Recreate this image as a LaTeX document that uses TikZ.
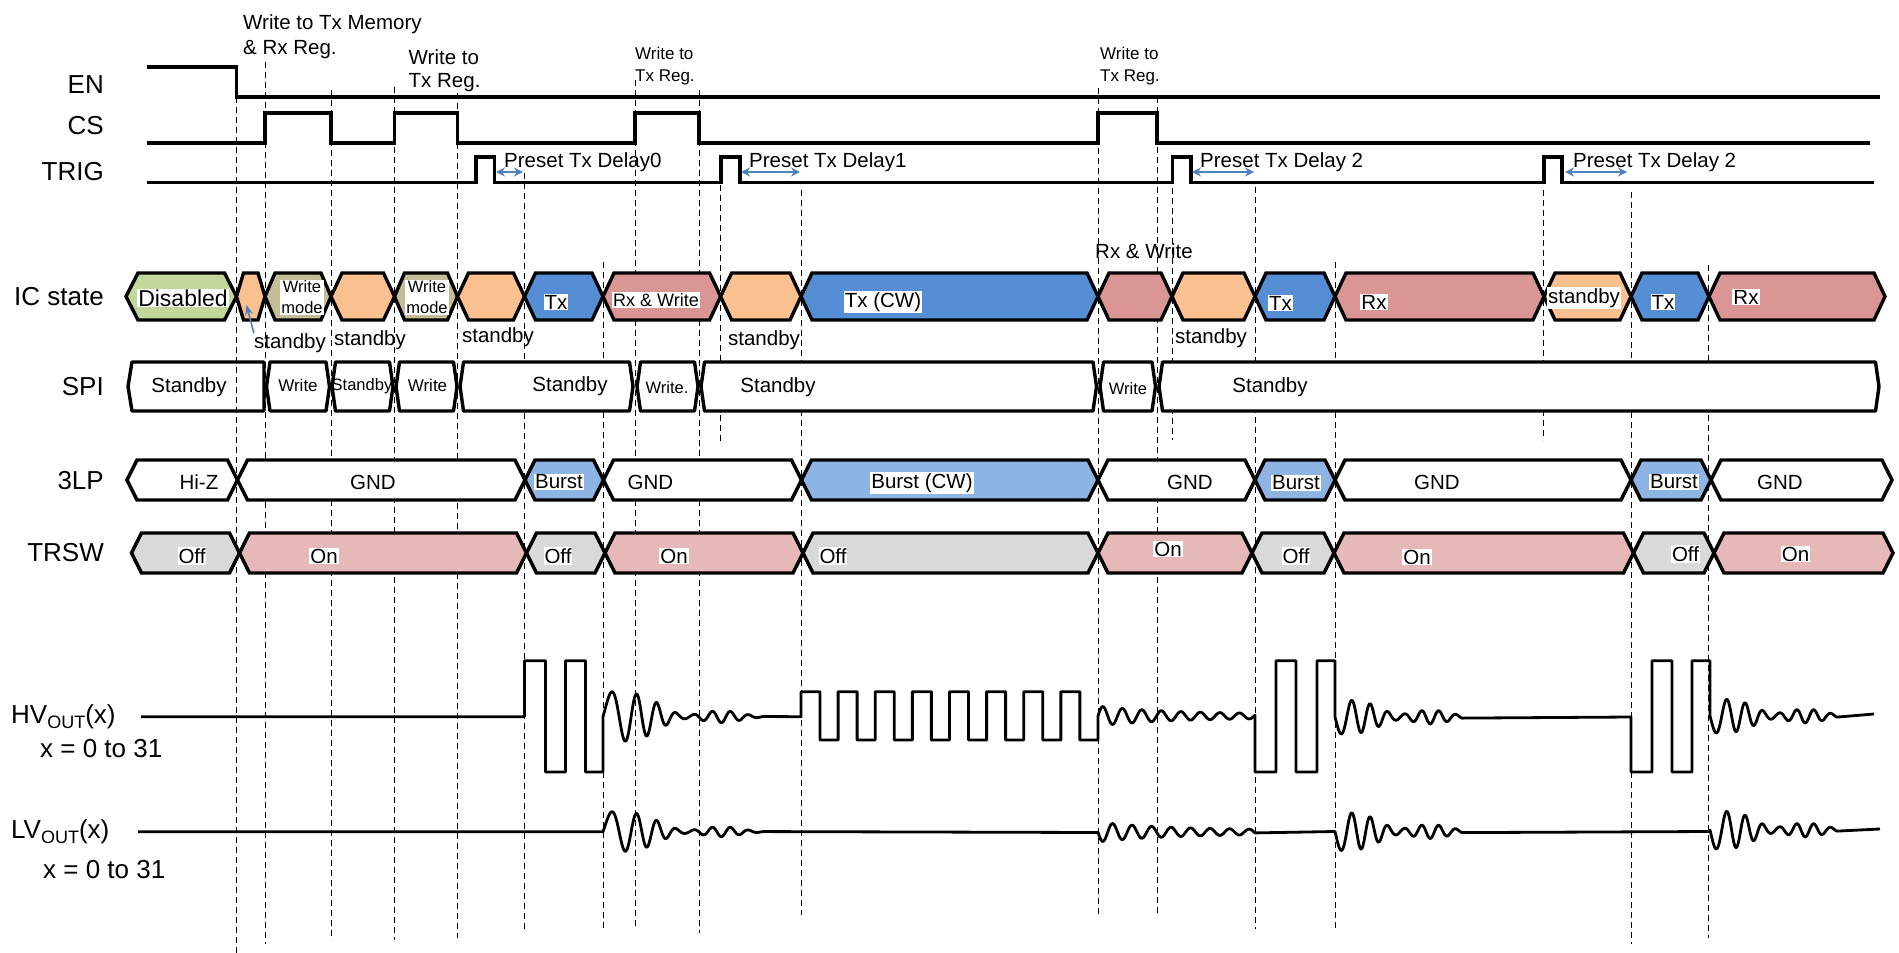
\documentclass[tikz,border=0pt]{standalone}
\usepackage{fontspec}
\setmainfont{Liberation Sans}
\usepackage{tikz}
\usetikzlibrary{arrows.meta}

\definecolor{discol}{HTML}{C4D79B}
\definecolor{sbycol}{HTML}{FAC090}
\definecolor{wrcol}{HTML}{C4BD97}
\definecolor{txcol}{HTML}{558ED5}
\definecolor{rxcol}{HTML}{D99694}
\definecolor{burstcol}{HTML}{8EB4E3}
\definecolor{offcol}{HTML}{D9D9D9}
\definecolor{oncol}{HTML}{E6B9B8}
\definecolor{delaycol}{HTML}{4F81BD}

% hexagon segment: style, left, right, top, bottom, slant
\newcommand{\hexseg}[6]{%
  \filldraw[#1] (#2,{(#4+#5)/2}) -- ({#2+#6},#4) -- ({#3-#6},#4) -- (#3,{(#4+#5)/2})
    -- ({#3-#6},#5) -- ({#2+#6},#5) -- cycle;}

\begin{document}
\begin{tikzpicture}[x=1pt, y=-1pt,
    declare function={
      bigenv(\u,\w)=exp(-min((\u/\w)*(\u/\w)*(\u/\w)*(\u/\w),15));
      bump(\u,\c)=exp(-min((\u-\c)*(\u-\c)/700,15));
      warp(\u,\k,\d)=\u-\k*(1-exp(-\u/\d));
    },
    sig/.style={line width=3.4pt, line join=miter},
    wave/.style={line width=2.8pt, line join=round},
    tmark/.style={line width=0.9pt, dash pattern=on 6pt off 4pt},
    seg/.style={draw=black, line width=3.4pt, line join=miter},
    rowlbl/.style={font=\fontsize{26}{28}\selectfont, inner sep=0pt, anchor=east},
    txt/.style={font=\fontsize{20.5}{24}\selectfont, inner sep=0pt},
    sml/.style={font=\fontsize{17}{20}\selectfont, inner sep=0pt},
    inbox/.style={fill=white, inner sep=1pt},
    delay/.style={{Stealth[length=9pt,width=9pt]}-{Stealth[length=9pt,width=9pt]}, delaycol, line width=2.2pt},
    ptr/.style={-{Stealth[length=10pt,width=8pt]}, delaycol, line width=1.6pt}]
  \useasboundingbox (0,0) rectangle (1899,953);

  % ---- time markers ----
  \foreach \x/\a/\b in {236.5/97/953, 265/62/944, 331/90/940, 394.5/87/940, 457.5/93/938,
      524.5/173/929, 603/262/929, 635/80/929, 699/90/933, 720.6/185/443, 801/190/915,
      1098/88/915, 1157/97/915, 1172/188/440, 1255/187/929, 1335/262/929,
      1543.5/190/440, 1631/192/944, 1708.6/265/938} {
    \draw[tmark] (\x,\a) -- (\x,\b);
  }

  % ---- row labels ----
  \node[rowlbl] (en) at (104,85) {EN};
  \node[rowlbl] (cs) at (104,126) {CS};
  \node[rowlbl] (trig) at (104,172) {TRIG};
  \node[rowlbl] (ics) at (104,297) {IC state};
  \node[rowlbl] (spi) at (104,387) {SPI};
  \node[rowlbl] (tlp) at (104,481) {3LP};
  \node[rowlbl] (trsw) at (104,553) {TRSW};
  \node[rowlbl, anchor=west] (hvo) at (11,717) {HV\raisebox{-0.35ex}{\fontsize{18}{18}\selectfont OUT}(x)};
  \node[rowlbl, anchor=west] (hvx) at (40,749) {x = 0 to 31};
  \node[rowlbl, anchor=west] (lvo) at (11,832) {LV\raisebox{-0.35ex}{\fontsize{18}{18}\selectfont OUT}(x)};
  \node[rowlbl, anchor=west] (lvx) at (43,870) {x = 0 to 31};

  % ---- EN, CS, TRIG ----
  \draw[sig] (147,67) -- (236.5,67) -- (236.5,97) -- (1880,97);
  \draw[sig] (147,143) \foreach \a/\b in {265/331, 394.5/457.5, 635/699, 1098/1157} {
      -- (\a,143) -- (\a,113) -- (\b,113) -- (\b,143) } -- (1870,143);
  \draw[sig] (147,182.5) \foreach \a/\b in {476/494.5, 721/740, 1172.5/1191, 1544/1562} {
      -- (\a,182.5) -- (\a,157) -- (\b,157) -- (\b,182.5) } -- (1874,182.5);

  % ---- annotations ----
  \node[txt, anchor=north west, align=left, font=\fontsize{20.5}{25}\selectfont] (wmem) at (243,14) {Write to Tx Memory\\\& Rx Reg.};
  \node[txt, anchor=north west, align=left, font=\fontsize{20.5}{23.5}\selectfont] (wreg1) at (408.5,49) {Write to\\Tx Reg.};
  \node[sml, anchor=north west, align=left, font=\fontsize{17}{21.7}\selectfont] (wreg2) at (635,47) {Write to\\Tx Reg.};
  \node[sml, anchor=north west, align=left, font=\fontsize{17}{21.7}\selectfont] (wreg3) at (1100,47) {Write to\\Tx Reg.};
  \foreach \n/\a/\b/\t in {0/496/523/{Preset Tx Delay0}, 1/741/800/{Preset Tx Delay1},
      2/1192/1254/{Preset Tx Delay 2}, 3/1565/1627/{Preset Tx Delay 2}} {
    \coordinate (da\n) at (\a,172);
    \coordinate (db\n) at (\b,172);
    \draw[delay] (da\n) -- (db\n);
    \node[txt, anchor=base west] (pd\n) at ({\a+8},167.5) {\t};
  }

  % ---- IC state ----
  \foreach \a/\b/\c/\s in {126/236.5/discol/12, 236.5/265/sbycol/7, 265/331/wrcol/10,
      331/394.5/sbycol/11, 394.5/457.5/wrcol/10, 457.5/524.5/sbycol/11, 524.5/603/txcol/11,
      603/720.6/rxcol/11, 720.6/801/sbycol/11, 801/1098/txcol/11, 1098/1172/rxcol/11,
      1172/1255/sbycol/11, 1255/1335/txcol/11, 1335/1544/rxcol/11, 1544/1631/sbycol/11,
      1631/1709/txcol/11, 1709/1885/rxcol/11} {
    \hexseg{seg, fill=\c}{\a}{\b}{273}{320}{\s}
  }
  \node[txt, inbox, font=\fontsize{23}{25}\selectfont] (icdis) at (183,298) {Disabled};
  \node[sml, inbox, align=center, font=\fontsize{16.5}{21}\selectfont] (icwr1) at (302,297.5) {Write\\mode};
  \node[sml, inbox, align=center, font=\fontsize{16.5}{21}\selectfont] (icwr2) at (427,297.5) {Write\\mode};
  \node[txt, inbox] (ictx1) at (556,302) {Tx};
  \node[sml, inbox, font=\fontsize{18}{20}\selectfont] (icrxw) at (656,300) {Rx \& Write};
  \node[txt, inbox] (iccw) at (883,302) {Tx (CW)};
  \node[txt, inbox] (ictx2) at (1280.5,303) {Tx};
  \node[txt, inbox] (icrx1) at (1374,302) {Rx};
  \node[txt, inbox] (icsby) at (1584,298) {standby};
  \node[txt, inbox] (ictx3) at (1663,302) {Tx};
  \node[txt, inbox] (icrx2) at (1746,297) {Rx};
  \node[txt] (rxw) at (1144,251.5) {Rx \& Write};
  \foreach \n/\x/\y in {1/290/343, 2/370/340, 3/498/337, 4/764/340, 5/1211/338} {
    \node[txt] (sby\n) at (\x,\y) {standby};
  }
  \coordinate (icsb0) at (246.5,305);
  \draw[ptr] (sby1.north west) -- (icsb0);

  % ---- SPI ----
  \draw[seg, line join=round] (128,386.5) -- (132,362) -- (264,362) -- (264,411) -- (132,411) -- cycle;
  \foreach \a/\b in {266.5/329.5, 332/393, 396/457, 460/633, 637/698, 701/1096.5,
      1100/1155.5, 1159/1879} {
    \hexseg{seg, line join=round, fill=white}{\a}{\b}{362}{411}{3.5}
  }
  \node[txt] (spi1) at (189,387) {Standby};
  \node[sml] (spi2) at (298,385) {Write};
  \node[sml, font=\fontsize{16.5}{18}\selectfont] (spi3) at (362,386) {Standby};
  \node[sml] (spi4) at (427.5,385) {Write};
  \node[txt] (spi5) at (570,386) {Standby};
  \node[sml, font=\fontsize{16.5}{18}\selectfont] (spi6) at (667,388) {Write.};
  \node[txt] (spi7) at (778,387) {Standby};
  \node[sml, font=\fontsize{16.5}{18}\selectfont] (spi8) at (1128,389) {Write};
  \node[txt] (spi9) at (1270,387) {Standby};

  % ---- 3LP ----
  \foreach \a/\b/\c in {127/237.5/white, 237.5/525/white, 525/603.5/burstcol,
      603.5/801.5/white, 801.5/1098/burstcol, 1098/1255/white, 1255/1335/burstcol,
      1335/1631/white, 1631/1711/burstcol, 1711/1892/white} {
    \hexseg{seg, fill=\c}{\a}{\b}{460}{500}{10}
  }
  \node[txt] (lp1) at (199,482) {Hi-Z};
  \node[txt] (lp2) at (373,482) {GND};
  \node[txt, inbox] (lp3) at (559,482) {Burst};
  \node[txt] (lp4) at (650.5,482) {GND};
  \node[txt, inbox] (lp5) at (922,483) {Burst (CW)};
  \node[txt] (lp6) at (1190,482) {GND};
  \node[txt, inbox] (lp7) at (1296,483) {Burst};
  \node[txt] (lp8) at (1437,482) {GND};
  \node[txt, inbox] (lp9) at (1674,482) {Burst};
  \node[txt] (lp10) at (1780,482) {GND};

  % ---- TRSW ----
  \foreach \a/\b/\c in {131.5/239.5/offcol, 239.5/526.5/oncol, 526.5/605/offcol,
      605/803/oncol, 803/1098/offcol, 1098/1252/oncol, 1252/1334/offcol,
      1334/1633.5/oncol, 1633.5/1714/offcol, 1714/1893/oncol} {
    \hexseg{seg, fill=\c}{\a}{\b}{533}{573}{10}
  }
  \foreach \n/\x/\y/\t in {1/192/556/Off, 2/324/556/On, 3/558/556/Off, 4/674/556/On,
      5/833/556/Off, 6/1168/549/On, 7/1296/556/Off, 8/1417/557/On, 9/1685.5/554/Off,
      10/1795.5/554/On} {
    \node[txt, inbox] (sw\n) at (\x,\y) {\t};
  }

  % ---- HV_OUT ----
  \draw[wave] (141,716.7) -- (524.5,716.7) -- (524.5,660.7) -- (545.5,660.7) -- (545.5,772)
    -- (565.5,772) -- (565.5,660.7) -- (585.5,660.7) -- (585.5,772) -- (603,772) -- (603,716.7)
    -- plot[domain=0:166, samples=167, variable=\u]
       ({603+\u},{716.7-(25*bigenv(\u,62)+6*bump(\u,118))*sin(warp(\u,15,25)*20)})
    -- (801,716.7)
    \foreach \k in {0,...,7} { -- ({801+37.125*\k},691.7) -- ({820+37.125*\k},691.7)
       -- ({820+37.125*\k},740) -- ({838.1+37.125*\k},740) }
    -- (1098,716)
    -- plot[domain=0:157, samples=158, variable=\u]
       ({1098+\u},{716-(8*exp(-\u/70)+2)*sin(\u*18.4615)})
    -- (1255,716) -- (1255,772) -- (1276,772) -- (1276,660.7) -- (1296,660.7) -- (1296,772)
    -- (1317,772) -- (1317,660.7) -- (1335,660.7)
    -- plot[domain=0:127, samples=128, variable=\u]
       ({1335+\u},{717+(17*bigenv(\u,50)+7*bump(\u,95))*sin(warp(\u,6,15)*21.18)})
    -- (1631,717) -- (1631,772) -- (1652,772) -- (1652,660.7) -- (1672,660.7) -- (1672,772)
    -- (1692,772) -- (1692,660.7) -- (1710,660.7)
    -- plot[domain=0:127, samples=128, variable=\u]
       ({1710+\u},{716+(17*bigenv(\u,50)+7*bump(\u,95))*sin(warp(\u,6,15)*21.18)})
    -- (1874,714);

  % ---- LV_OUT ----
  \draw[wave] (138,831.7) -- (603,831.7)
    -- plot[domain=0:166, samples=167, variable=\u]
       ({603+\u},{831.7-(20*bigenv(\u,62)+5*bump(\u,118))*sin(warp(\u,15,25)*20)})
    -- (1098,832.5)
    -- plot[domain=0:157, samples=158, variable=\u]
       ({1098+\u},{832+(8*exp(-\u/70)+2)*sin(\u*18.4615)})
    -- (1335,831.5)
    -- plot[domain=0:127, samples=128, variable=\u]
       ({1335+\u},{831.5+(19*bigenv(\u,50)+7*bump(\u,95))*sin(warp(\u,6,15)*21.18)})
    -- (1710,831.5)
    -- plot[domain=0:127, samples=128, variable=\u]
       ({1710+\u},{830+(19*bigenv(\u,50)+7*bump(\u,95))*sin(warp(\u,6,15)*21.18)})
    -- (1880,829);
\end{tikzpicture}
\end{document}
